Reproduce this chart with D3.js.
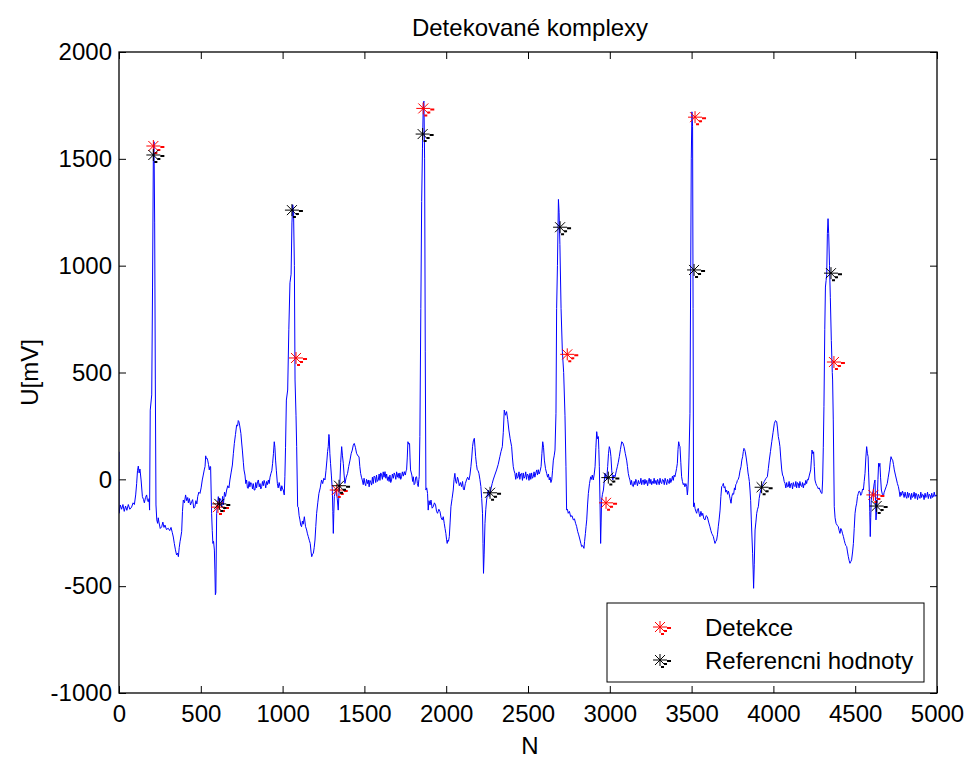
<!DOCTYPE html>
<html>
<head>
<meta charset="utf-8">
<script src="https://cdnjs.cloudflare.com/ajax/libs/d3/7.8.5/d3.min.js"></script>
<style>
  body { margin: 0; background: #fff; }
  svg { display: block; font-family: Arial, "Liberation Sans", sans-serif; font-weight: normal; }
  .tick text { font-size: 24px; font-family: Arial, "Liberation Sans", sans-serif; }
</style>
</head>
<body>
<b></b>
<script>
// ECG trace (sample index N, voltage U in mV)
const ecgN = [0,0,8,16,24,32,40,48,57,66,77,86,94,102,108,113,118,123,128,135,143,150,155,162,169,174,179,184,187,191,200,205,210,214,218,222,226,231,236,240,244,252,261,268,275,281,290,301,310,318,326,332,338,345,352,358,363,368,373,378,383,388,393,400,407,414,420,424,430,437,444,450,457,464,470,476,481,488,495,502,509,515,521,526,530,532,537,542,547,552,556,560,566,570,574,578,583,586,589,592,597,602,607,612,618,623,628,633,638,645,651,658,665,672,678,685,693,699,705,712,719,725,729,733,738,745,750,754,760,764,770,775,780,785,790,795,800,805,811,816,821,826,831,836,841,847,852,857,862,867,872,877,882,887,892,897,902,907,913,918,923,929,934,939,944,949,953,957,962,968,973,979,984,990,995,1000,1004,1010,1014,1018,1023,1031,1038,1045,1052,1057,1062,1067,1072,1076,1082,1086,1092,1096,1101,1106,1111,1116,1121,1126,1133,1140,1147,1152,1157,1163,1169,1174,1178,1183,1188,1193,1198,1203,1208,1215,1222,1230,1238,1245,1252,1259,1265,1271,1275,1279,1283,1285,1289,1293,1298,1304,1307,1310,1313,1316,1322,1328,1334,1340,1345,1350,1355,1361,1366,1371,1376,1381,1389,1397,1404,1412,1419,1426,1432,1438,1445,1452,1460,1467,1472,1477,1482,1487,1493,1498,1503,1508,1513,1519,1524,1529,1534,1539,1544,1549,1554,1559,1564,1569,1574,1579,1585,1590,1595,1600,1605,1610,1615,1620,1626,1631,1636,1641,1646,1651,1656,1661,1666,1671,1677,1682,1687,1692,1697,1702,1707,1712,1717,1722,1727,1732,1738,1744,1750,1755,1758,1762,1766,1771,1776,1779,1782,1790,1795,1799,1804,1809,1814,1819,1824,1829,1833,1835,1839,1845,1850,1855,1860,1864,1868,1872,1876,1881,1886,1890,1895,1901,1907,1914,1921,1928,1935,1941,1947,1955,1962,1969,1976,1982,1988,1993,1998,2002,2006,2010,2014,2019,2024,2029,2036,2043,2048,2053,2058,2063,2069,2074,2080,2087,2094,2100,2105,2110,2117,2124,2131,2139,2145,2151,2156,2161,2166,2172,2176,2180,2185,2190,2195,2200,2206,2212,2217,2222,2225,2228,2232,2237,2242,2247,2252,2257,2262,2267,2275,2281,2287,2297,2308,2318,2328,2335,2343,2349,2355,2362,2369,2376,2383,2391,2400,2405,2410,2415,2420,2425,2430,2435,2440,2445,2450,2455,2461,2466,2471,2476,2481,2486,2491,2496,2501,2506,2512,2517,2522,2527,2532,2537,2542,2548,2553,2558,2563,2568,2573,2580,2585,2590,2595,2600,2607,2614,2620,2625,2630,2635,2640,2645,2650,2655,2660,2665,2671,2675,2680,2686,2690,2695,2702,2710,2718,2726,2732,2736,2741,2746,2753,2761,2769,2777,2784,2791,2797,2804,2810,2818,2823,2828,2835,2842,2846,2851,2855,2859,2864,2869,2876,2883,2888,2893,2899,2904,2910,2915,2920,2925,2930,2933,2936,2940,2944,2947,2950,2955,2961,2966,2971,2976,2981,2987,2992,2997,3002,3007,3012,3018,3025,3032,3040,3046,3052,3058,3065,3073,3080,3087,3095,3103,3108,3113,3118,3123,3128,3133,3138,3144,3149,3154,3159,3164,3169,3175,3180,3185,3190,3195,3200,3205,3210,3215,3220,3226,3231,3236,3241,3246,3251,3256,3261,3266,3271,3276,3282,3287,3292,3297,3302,3307,3312,3317,3322,3327,3333,3338,3343,3348,3353,3358,3363,3368,3373,3378,3383,3388,3393,3398,3403,3408,3413,3417,3421,3425,3429,3434,3439,3444,3449,3454,3459,3465,3470,3474,3477,3480,3484,3490,3494,3498,3502,3506,3509,3512,3516,3521,3526,3531,3536,3541,3546,3551,3557,3563,3568,3575,3582,3589,3596,3604,3612,3618,3623,3628,3633,3638,3643,3648,3653,3658,3663,3668,3674,3679,3684,3689,3694,3699,3704,3709,3714,3720,3725,3729,3735,3741,3746,3751,3757,3762,3766,3770,3775,3780,3785,3790,3796,3802,3807,3812,3816,3820,3824,3828,3834,3841,3845,3849,3853,3857,3861,3865,3869,3873,3876,3879,3883,3888,3893,3898,3903,3908,3913,3918,3923,3928,3933,3938,3944,3949,3955,3963,3969,3975,3982,3990,3998,4006,4013,4020,4025,4030,4035,4040,4045,4051,4056,4061,4066,4071,4076,4081,4086,4091,4096,4101,4107,4112,4117,4122,4127,4132,4137,4142,4147,4152,4157,4162,4168,4173,4178,4183,4188,4193,4198,4203,4208,4213,4220,4228,4232,4236,4241,4246,4250,4254,4260,4265,4269,4275,4280,4285,4290,4295,4297,4301,4305,4309,4314,4318,4322,4326,4330,4334,4338,4343,4348,4354,4360,4362,4366,4372,4377,4383,4390,4397,4402,4407,4412,4417,4423,4428,4433,4438,4443,4448,4453,4458,4463,4468,4473,4478,4484,4489,4494,4499,4504,4509,4514,4519,4524,4529,4534,4540,4545,4550,4555,4560,4565,4570,4575,4579,4582,4586,4589,4592,4595,4598,4604,4611,4616,4621,4624,4627,4631,4635,4639,4643,4647,4651,4655,4660,4666,4672,4677,4682,4689,4696,4702,4709,4714,4719,4724,4729,4734,4739,4746,4753,4758,4764,4769,4774,4779,4784,4789,4794,4799,4805,4810,4815,4820,4825,4830,4835,4840,4845,4850,4855,4860,4866,4871,4876,4881,4886,4891,4896,4901,4906,4911,4916,4921,4927,4932,4937,4942,4947,4952,4957,4962,4968,4973,4978,4983,4988,4994,5000];
const ecgU = [129,-159,-120,-140,-118,-150,-125,-145,-118,-140,-130,-110,-118,-73,-19,40,62,30,48,-3,-81,-95,-110,-85,-73,-100,-105,-90,-144,324,395,900,1520,1580,1200,465,-120,-190,-206,-180,-200,-230,-222,-200,-225,-214,-235,-229,-240,-225,-250,-270,-300,-330,-354,-345,-362,-320,-292,-270,-245,-150,-97,-110,-73,-100,-85,-110,-90,-120,-105,-95,-135,-128,-100,-115,-81,-60,-66,-40,-3,20,44,60,110,98,100,90,70,44,60,59,-159,-240,-300,-290,-331,-420,-540,-530,-159,-120,-81,-110,-90,-97,-130,-80,-120,-60,-80,-50,-30,-40,-3,30,67,120,168,210,254,250,275,270,250,215,170,137,80,44,20,-20,-3,-40,-42,-10,-35,-15,-19,-45,-20,-50,-50,-15,-40,-10,-3,-35,-20,-45,-34,-10,-30,-5,-19,-40,-10,-25,-3,-20,10,28,40,75,120,176,150,90,40,-19,-40,-15,-34,-55,-30,-45,-50,-73,12,150,371,418,700,920,960,1200,1285,1250,1000,465,300,153,-128,-130,-170,-190,-215,-222,-195,-210,-175,-220,-237,-255,-268,-285,-300,-340,-362,-350,-346,-320,-284,-220,-159,-110,-66,-40,-3,-20,5,-3,40,90,130,153,210,200,120,75,20,-50,-150,-253,-160,-81,-60,-50,-90,-144,-60,-19,80,153,110,75,20,-19,10,28,60,90,120,137,160,168,150,122,110,106,60,28,10,-3,-25,5,-19,-30,0,-20,-3,-35,-5,-15,-27,10,-20,15,12,-15,20,-10,-3,25,-5,30,20,0,35,10,36,5,25,-5,12,-10,20,-15,-3,25,5,30,20,0,35,10,28,5,30,0,12,35,15,36,20,40,44,100,176,165,168,100,44,20,-10,12,-25,-19,10,12,-20,-34,0,12,200,800,1300,1550,1760,1770,1500,600,-50,-40,-66,-144,-100,-120,-97,-135,-128,-110,-120,-150,-159,-140,-151,-180,-190,-175,-206,-230,-253,-280,-300,-285,-290,-268,-200,-128,-90,-50,0,28,-10,-19,10,-3,-30,-15,-34,-10,-45,-50,-20,-3,10,-3,20,59,100,153,180,192,150,106,70,44,40,28,0,-34,-90,-159,-300,-440,-350,-206,-140,-97,-70,-50,-80,-66,-40,-20,-3,20,44,70,106,130,153,220,324,300,317,280,231,190,153,100,59,40,28,0,30,5,12,35,0,25,28,-5,30,5,12,35,0,25,20,-5,28,0,30,5,12,35,10,30,44,20,45,25,36,60,120,176,150,90,50,28,10,25,-3,10,-15,-3,40,90,110,137,309,800,1000,1310,1250,1100,800,600,500,300,59,-144,-140,-159,-150,-175,-170,-190,-185,-206,-220,-245,-260,-284,-300,-315,-310,-323,-290,-253,-220,-190,-120,-66,-20,12,0,20,-3,20,59,150,223,190,200,140,59,-100,-300,-200,-97,-70,-50,-10,28,10,-3,60,120,153,140,106,40,-3,20,12,40,59,80,106,140,176,170,153,120,90,60,28,10,-3,-25,-5,-30,-34,-10,-25,0,-11,-30,-5,-20,-19,5,-25,-5,-3,-25,0,-20,-5,-30,-11,5,-20,0,-25,-10,-19,5,-20,-5,-25,0,-11,-25,5,-15,-20,0,-3,-25,5,-10,-25,0,-11,-20,5,-15,-3,15,-5,20,12,30,50,75,140,176,160,153,80,12,-10,-25,-19,-35,-20,-34,-73,-50,-3,100,309,900,1500,1720,1650,800,-128,-110,-136,-150,-159,-140,-136,-160,-175,-150,-170,-159,-185,-190,-170,-175,-200,-222,-240,-253,-260,-268,-285,-300,-290,-284,-260,-222,-190,-144,-80,-34,-30,-19,-40,-34,-60,-50,-70,-55,-66,-90,-112,-80,-66,-70,-40,-50,-25,-19,-5,0,12,40,59,90,106,130,145,140,129,100,59,30,12,-10,-50,-100,-190,-270,-346,-420,-510,-400,-237,-200,-159,-140,-128,-90,-66,-50,-42,-25,-20,-10,-3,5,12,50,90,130,176,220,262,275,270,240,200,180,153,100,44,20,12,-10,-19,-40,-15,-35,-34,-10,-40,-20,-19,-45,-15,-30,-34,-10,-40,-15,-19,-40,-10,-30,-34,-15,-40,-20,-27,-5,-20,0,-3,20,44,90,137,120,129,60,-3,-20,-30,-34,-45,-40,-50,-60,-66,-66,-3,150,340,700,900,930,960,1150,1220,1150,1000,850,650,500,465,278,-128,-180,-206,-215,-222,-240,-253,-230,-237,-255,-268,-285,-300,-310,-315,-340,-362,-380,-393,-385,-377,-340,-300,-230,-159,-130,-112,-80,-66,-55,-58,-75,-66,-45,-50,-10,28,100,153,120,106,30,-50,-150,-268,-180,-97,-70,-50,-20,-3,-100,-190,-150,-97,0,75,60,75,10,-50,-70,-81,-60,-50,-35,-19,10,44,80,106,95,90,70,44,20,-3,-20,-34,-55,-81,-60,-75,-55,-66,-85,-60,-80,-89,-60,-85,-65,-73,-95,-65,-85,-81,-60,-90,-65,-73,-95,-70,-80,-89,-60,-85,-70,-73,-95,-65,-85,-81,-60,-90,-70,-73,-90,-65,-85,-81,-60,-80,-73,-80];

// detected complexes (red) and reference values (black)
const detN = [210, 605, 1082, 1331, 1860, 2740, 2977, 3521, 4370, 4611];
const detU = [1560, -130, 568, -50, 1736, 585, -110, 1695, 549, -73];
const refN = [210, 613, 1057, 1345, 1856, 2268, 2696, 2991, 3515, 3928, 4352, 4631];
const refU = [1518, -115, 1260, -30, 1616, -63, 1180, 8, 980, -37, 965, -125];

const xTicks = d3.range(0, 5001, 500);
const yTicks = d3.range(-1000, 2001, 500);

const width = 968, height = 758;
const margin = {top: 52, right: 31, bottom: 65, left: 119};
const iw = width - margin.left - margin.right,
      ih = height - margin.top - margin.bottom;

const svg = d3.select("b").append("svg")
  .attr("width", width)
  .attr("height", height);

const x = d3.scaleLinear().domain([0, 5000]).range([0, iw]);
const y = d3.scaleLinear().domain([-1000, 2000]).range([ih, 0]);

const g = svg.append("g").attr("transform", `translate(${margin.left},${margin.top})`);

g.append("clipPath").attr("id", "clip")
  .append("rect").attr("width", iw).attr("height", ih);

// signal
const line = d3.line().x(d => x(d[0])).y(d => y(d[1]));
g.append("path")
  .datum(d3.zip(ecgN, ecgU))
  .attr("clip-path", "url(#clip)")
  .attr("fill", "none")
  .attr("stroke", "#0000ff")
  .attr("stroke-width", 1)
  .attr("d", line);

// matlab-ish star marker with the little dashes trailing off it
function star(sel, color) {
  sel.append("path")
    .attr("fill", "none")
    .attr("stroke", color)
    .attr("stroke-width", 1)
    .attr("d", "M-7,0H7M0,-6V6M-5,-5L5,5M-5,5L5,-5");
  sel.append("path")
    .attr("fill", "none")
    .attr("stroke", color)
    .attr("stroke-width", 2)
    .attr("d", "M7,1H11M4,4H7M1,7H4");
}

g.selectAll(".det")
  .data(d3.zip(detN, detU))
  .join("g")
  .classed("det", true)
  .attr("transform", d => `translate(${x(d[0])},${y(d[1])})`)
  .each(function() { star(d3.select(this), "#ff0000"); });

g.selectAll(".ref")
  .data(d3.zip(refN, refU))
  .join("g")
  .classed("ref", true)
  .attr("transform", d => `translate(${x(d[0])},${y(d[1])})`)
  .each(function() { star(d3.select(this), "#000000"); });

// axes, ticks inside on all four sides
const tl = 7;
const fmt = d => String(d);   // plain hyphen minus like matlab
g.append("g").attr("transform", `translate(0,${ih})`)
  .call(d3.axisBottom(x).tickValues(xTicks).tickFormat(fmt).tickSizeInner(-tl).tickSizeOuter(0).tickPadding(12));
g.append("g")
  .call(d3.axisLeft(y).tickValues(yTicks).tickFormat(fmt).tickSizeInner(-tl).tickSizeOuter(0).tickPadding(7));
g.append("g")
  .call(d3.axisTop(x).tickValues(xTicks).tickFormat("").tickSizeInner(-tl).tickSizeOuter(0));
g.append("g").attr("transform", `translate(${iw},0)`)
  .call(d3.axisRight(y).tickValues(yTicks).tickFormat("").tickSizeInner(-tl).tickSizeOuter(0));

g.selectAll(".domain").remove();
g.selectAll(".tick line").attr("stroke", "#000");
g.selectAll(".tick text").attr("fill", "#000");

g.append("rect")
  .attr("width", iw).attr("height", ih)
  .attr("fill", "none").attr("stroke", "#000").attr("stroke-width", 1.3);

// titles
svg.append("text")
  .attr("x", margin.left + iw / 2 + 2).attr("y", 36)
  .attr("text-anchor", "middle").attr("font-size", 24)
  .text("Detekované komplexy");

svg.append("text")
  .attr("x", margin.left + iw / 2 + 2).attr("y", 754)
  .attr("text-anchor", "middle").attr("font-size", 24)
  .text("N");

svg.append("text")
  .attr("transform", `translate(38,${margin.top + ih / 2}) rotate(-90)`)
  .attr("text-anchor", "middle").attr("font-size", 24)
  .text("U[mV]");

// legend
const legendNames = ["Detekce", "Referencni hodnoty"];
const legendColors = ["#ff0000", "#000000"];
const lg = svg.append("g").attr("transform", "translate(607,603)");
lg.append("rect")
  .attr("width", 317).attr("height", 79)
  .attr("fill", "#fff").attr("stroke", "#000").attr("stroke-width", 1);
const item = lg.selectAll(".item")
  .data(legendNames)
  .join("g")
  .attr("transform", (d, i) => `translate(0,${24 + i * 33})`);
item.append("g")
  .attr("transform", "translate(53,0)")
  .each(function(d, i) { star(d3.select(this), legendColors[i]); });
item.append("text")
  .attr("x", 98).attr("y", 9)
  .attr("font-size", 24)
  .text(d => d);
</script>
</body>
</html>
